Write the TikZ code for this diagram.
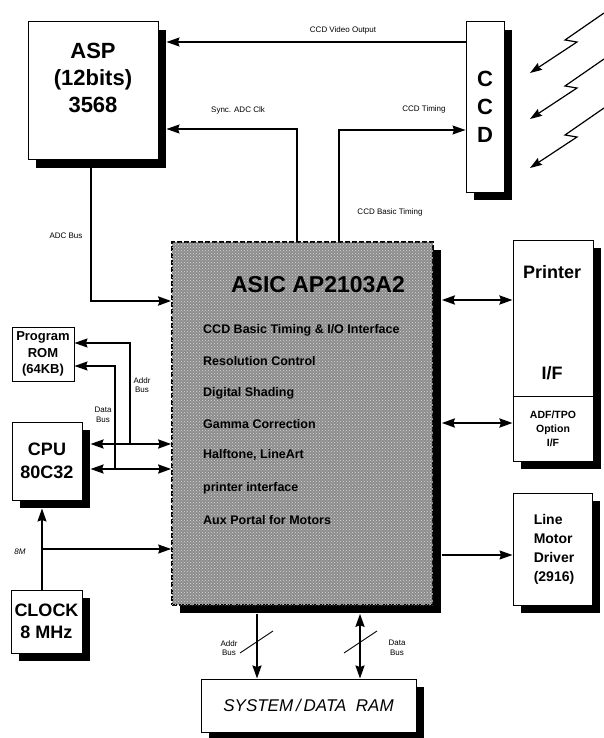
\documentclass[tikz,border=0pt]{standalone}
\usepackage{fontspec}
\setmainfont{Liberation Sans}
\usetikzlibrary{arrows.meta,shadows,patterns}
\begin{document}
\begin{tikzpicture}[x=1pt,y=-1pt,
  box/.style={draw=black,line width=1pt,fill=white,inner sep=0pt},
  shad/.style={drop shadow={shadow xshift=8pt,shadow yshift=-8pt,fill=black,opacity=1}},
  asicbox/.style={draw=black,line width=1.6pt,dash pattern=on 5pt off 2pt,fill=black!45,
     postaction={pattern=crosshatch dots,pattern color=white!85!black},inner sep=0pt},
  lab/.style={font=\fontsize{8}{9.5}\selectfont,inner sep=1pt,align=center},
  big/.style={font=\bfseries\fontsize{22}{27}\selectfont,align=center,inner sep=0pt},
  mid/.style={font=\bfseries\fontsize{18}{22.5}\selectfont,align=center,inner sep=0pt},
  item/.style={font=\bfseries\fontsize{12.5}{14}\selectfont,anchor=west,inner sep=0pt},
  thinline/.style={line width=1.3pt},
  busline/.style={line width=2pt},
  arr/.style={-{Stealth[length=13pt,width=9pt,inset=1.5pt]}},
  darr/.style={{Stealth[length=13pt,width=9pt,inset=1.5pt]}-{Stealth[length=13pt,width=9pt,inset=1.5pt]}},
  bolt/.style={line width=1.2pt,-{Stealth[length=12pt,width=8pt,inset=1.5pt]}}]
\useasboundingbox (0,0) rectangle (604,738);

% boxes
\node[box,shad,minimum width=130pt,minimum height=138pt] (asp) at (93,91) {};
\node[big] (asptext) at (93,78) {ASP\\(12bits)\\3568};
\node[box,shad,minimum width=38pt,minimum height=170pt] (ccd) at (485,107) {};
\node[big] (c1) at (485,79) {C};
\node[big] (c2) at (485,107) {C};
\node[big] (c3) at (485,135) {D};

\node[box,minimum width=62pt,minimum height=54pt,font=\bfseries\fontsize{13}{16.5}\selectfont,align=center] (rom) at (43,354) {Program\\ROM\\(64KB)};
\node[box,shad,minimum width=70pt,minimum height=78pt,mid] (cpu) at (47,461) {CPU\\80C32};
\node[box,shad,minimum width=71pt,minimum height=63pt,mid] (clk) at (46.5,621.5) {CLOCK\\8 MHz};

\node[box,shad,minimum width=80pt,minimum height=156pt] (prn) at (553,318) {};
\node[font=\bfseries\fontsize{18}{20}\selectfont,inner sep=0pt] (prnt) at (552,272) {Printer};
\node[font=\bfseries\fontsize{18}{20}\selectfont,inner sep=0pt] (prnif) at (552,373) {I/F};
\node[box,shad,minimum width=80pt,minimum height=65pt,font=\bfseries\fontsize{10.5}{14}\selectfont,align=center] (adf) at (553,428.5) {ADF/TPO\\Option\\I/F};

\node[box,shad,minimum width=79pt,minimum height=112pt] (lmd) at (552.5,549) {};
\node[font=\bfseries\fontsize{14}{19}\selectfont,align=left,inner sep=0pt] (lmdt) at (554,549) {Line\\Motor\\Driver\\(2916)};

\node[box,shad,minimum width=215pt,minimum height=53pt,font=\itshape\fontsize{17}{20}\selectfont] (ram) at (308.5,705.5) {SYSTEM\,/\,DATA\ \ RAM};

% ASIC
\node[asicbox,shad,minimum width=261pt,minimum height=363pt] (asic) at (302.5,423.5) {};
\node[font=\bfseries\fontsize{23}{26}\selectfont,inner sep=0pt] (asict) at (318,285) {ASIC AP2103A2};
\node[item] (a1) at (203,330) {CCD Basic Timing \& I/O Interface};
\node[item] (a2) at (203,361) {Resolution Control};
\node[item] (a3) at (203,393) {Digital Shading};
\node[item] (a4) at (203,424) {Gamma Correction};
\node[item] (a5) at (203,455) {Halftone, LineArt};
\node[item] (a6) at (203,488) {printer interface};
\node[item] (a7) at (203,520) {Aux Portal for Motors};

% shadow corners
\coordinate (aspsh) at ([xshift=8pt,yshift=-8pt]asp.south east);
\coordinate (asicsh) at ([xshift=8pt,yshift=-8pt]asic.south east);
\coordinate (cpush) at ([xshift=8pt,yshift=-8pt]cpu.south east);

% CCD / ASP connections
\draw[thinline,arr] (ccd.west |- 0,42) -- (aspsh |- 0,42);
\draw[thinline,arr] (asic.north -| 297,0) |- (aspsh |- 0,129);
\draw[thinline,arr] (asic.north -| 339,0) |- (ccd.west |- 0,130);
\draw[line width=2.5pt,arr] (91,0 |- aspsh) |- (asic.west |- 0,301);

% CPU buses
\draw[busline,darr] (cpush |- 0,444) -- (asic.west |- 0,444);
\draw[busline,darr] (cpush |- 0,469) -- (asic.west |- 0,469);
\draw[thinline,arr] (130,444) |- (rom.east |- 0,343);
\draw[thinline,arr] (115,469) |- (rom.east |- 0,366);

% clock
\draw[thinline,arr] (clk.north -| 42,0) -- (42,0 |- cpush);
\draw[thinline,arr] (42,549) -- (asic.west |- 0,549);

% right side
\draw[line width=2.2pt,darr] (asicsh |- 0,300) -- (prn.west |- 0,300);
\draw[line width=2.2pt,darr] (asicsh |- 0,423) -- (adf.west |- 0,423);
\draw[thinline,arr] (asicsh |- 0,555) -- (lmd.west |- 0,555);

% RAM
\draw[busline,arr] (257,0 |- asicsh) -- (ram.north -| 257,0);
\draw[busline,darr] (360,0 |- asicsh) -- (ram.north -| 360,0);
\draw[line width=0.9pt] (240,653) -- (273,631);
\draw[line width=0.9pt] (344,653) -- (377,631);

% lightning
\foreach \i/\dy in {1/0,2/46,3/95}{
  \coordinate (ls\i) at (604,13+\dy);
  \coordinate (le\i) at (530,73+\dy);
  \draw[bolt] (ls\i) -- (565,40+\dy) -- (577,42+\dy) -- (le\i);
}

% labels
\node[lab] (lvid) at (343,30) {CCD Video Output};
\node[lab] (lsync) at (238,110) {Sync. ADC Clk};
\node[lab] (ltim) at (424,109) {CCD Timing};
\node[lab] (lbas) at (390,212) {CCD Basic Timing};
\node[lab] (ladc) at (66,236) {ADC Bus};
\node[lab] (lab1) at (142,385) {Addr\\Bus};
\node[lab] (lab2) at (103,415) {Data\\Bus};
\node[lab,font=\itshape\fontsize{8}{9.5}\selectfont] (l8m) at (20,552) {8M};
\node[lab] (lab3) at (229,648) {Addr\\Bus};
\node[lab] (lab4) at (397,648) {Data\\Bus};
\end{tikzpicture}
\end{document}
